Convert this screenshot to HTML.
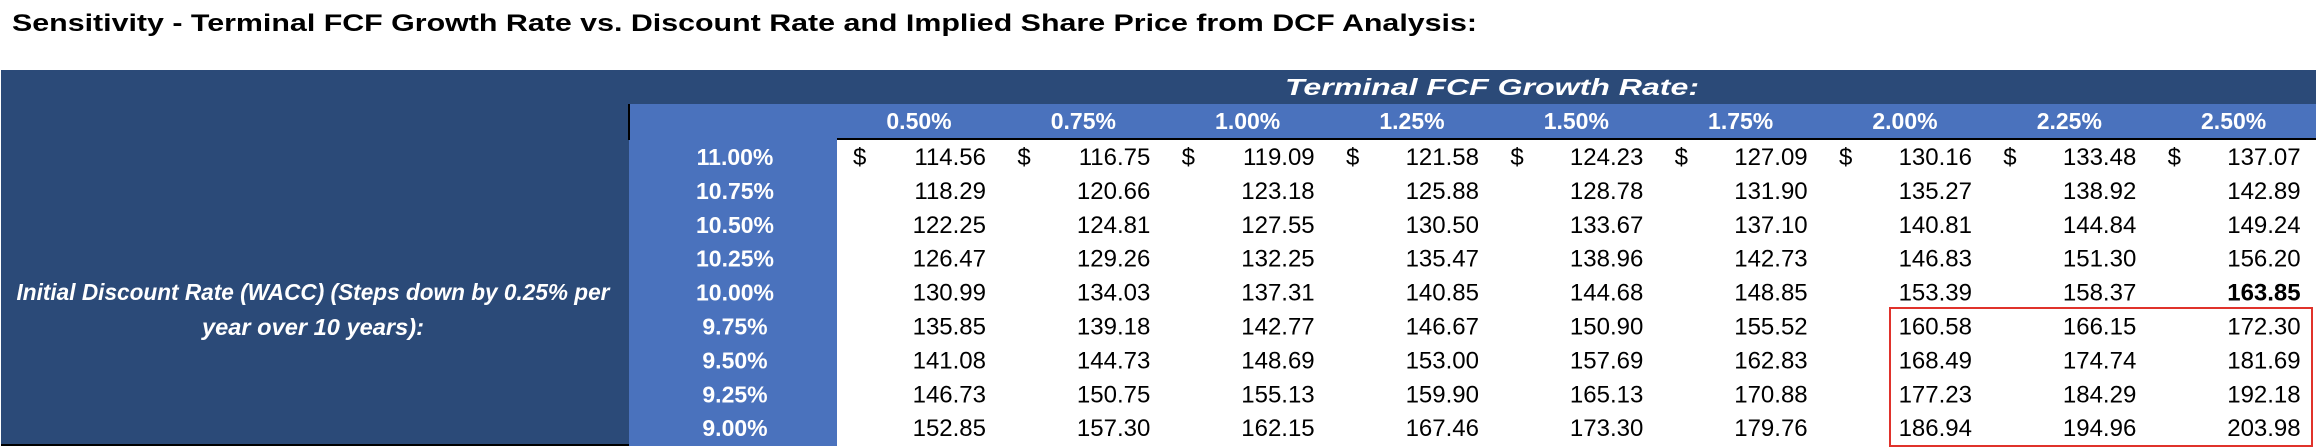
<!DOCTYPE html>
<html><head><meta charset="utf-8"><style>
html,body{margin:0;padding:0;background:#fff;}
svg{display:block;font-family:"Liberation Sans",sans-serif;}
</style></head><body>
<svg id="s" width="2316" height="448" xmlns="http://www.w3.org/2000/svg">
<text x="12" y="31" font-size="24" font-weight="bold" fill="#000" textLength="1465" lengthAdjust="spacingAndGlyphs">Sensitivity - Terminal FCF Growth Rate vs. Discount Rate and Implied Share Price from DCF Analysis:</text>
<rect x="1" y="70" width="2315" height="34" fill="#2B4A78"/>
<rect x="1" y="104" width="628" height="342" fill="#2B4A78"/>
<rect x="629" y="104" width="1687" height="35" fill="#4A72BD"/>
<rect x="629" y="139" width="208" height="307" fill="#4A72BD"/>
<line x1="629" y1="104" x2="629" y2="140" stroke="#000" stroke-width="2"/>
<line x1="837" y1="139" x2="2316" y2="139" stroke="#000" stroke-width="2"/>
<line x1="1" y1="445" x2="629" y2="445" stroke="#000" stroke-width="2"/>
<text x="1492" y="95" font-size="23" font-weight="bold" font-style="italic" fill="#fff" text-anchor="middle" textLength="414" lengthAdjust="spacingAndGlyphs">Terminal FCF Growth Rate:</text>
<text x="313" y="300" font-size="23" font-weight="bold" font-style="italic" fill="#fff" text-anchor="middle" textLength="593" lengthAdjust="spacingAndGlyphs">Initial Discount Rate (WACC) (Steps down by 0.25% per</text>
<text x="313" y="335" font-size="23" font-weight="bold" font-style="italic" fill="#fff" text-anchor="middle" textLength="222" lengthAdjust="spacingAndGlyphs">year over 10 years):</text>
<g id="cells"></g>
<rect x="1890" y="308" width="422" height="138" fill="none" stroke="#E0322B" stroke-width="2"/>
</svg>
<script>
const growthLabels=["0.50%","0.75%","1.00%","1.25%","1.50%","1.75%","2.00%","2.25%","2.50%"];
const waccLabels=["11.00%","10.75%","10.50%","10.25%","10.00%","9.75%","9.50%","9.25%","9.00%"];
const values=[
[114.56,116.75,119.09,121.58,124.23,127.09,130.16,133.48,137.07],
[118.29,120.66,123.18,125.88,128.78,131.90,135.27,138.92,142.89],
[122.25,124.81,127.55,130.50,133.67,137.10,140.81,144.84,149.24],
[126.47,129.26,132.25,135.47,138.96,142.73,146.83,151.30,156.20],
[130.99,134.03,137.31,140.85,144.68,148.85,153.39,158.37,163.85],
[135.85,139.18,142.77,146.67,150.90,155.52,160.58,166.15,172.30],
[141.08,144.73,148.69,153.00,157.69,162.83,168.49,174.74,181.69],
[146.73,150.75,155.13,159.90,165.13,170.88,177.23,184.29,192.18],
[152.85,157.30,162.15,167.46,173.30,179.76,186.94,194.96,203.98]];
const NS="http://www.w3.org/2000/svg";
const g=document.getElementById('cells');
const colX=i=>837+i*164.33;
const rowY=r=>157+r*33.9;
function t(x,y,s,opt){const e=document.createElementNS(NS,'text');e.setAttribute('x',x);e.setAttribute('y',y);e.setAttribute('font-size',opt.fs||24);e.setAttribute('fill',opt.fill||'#000');if(opt.anchor)e.setAttribute('text-anchor',opt.anchor);if(opt.bold)e.setAttribute('font-weight','bold');e.textContent=s;g.appendChild(e);return e;}
growthLabels.forEach((l,i)=>{const e=t(colX(i)+82,129,l,{fill:'#fff',bold:1,anchor:'middle',fs:23});

});
waccLabels.forEach((l,r)=>{const e=t(735,rowY(r)+8,l,{fill:'#fff',bold:1,anchor:'middle',fs:23});

});
values.forEach((row,r)=>row.forEach((v,c)=>{
 if(r===0){const d=t(colX(c)+16,rowY(r)+8,'$',{});
 
 }
 const e=t(colX(c)+149,rowY(r)+8,v.toFixed(2),{anchor:'end',bold:(r===4&&c===8)});
 
 
}));
</script>
</body></html>
